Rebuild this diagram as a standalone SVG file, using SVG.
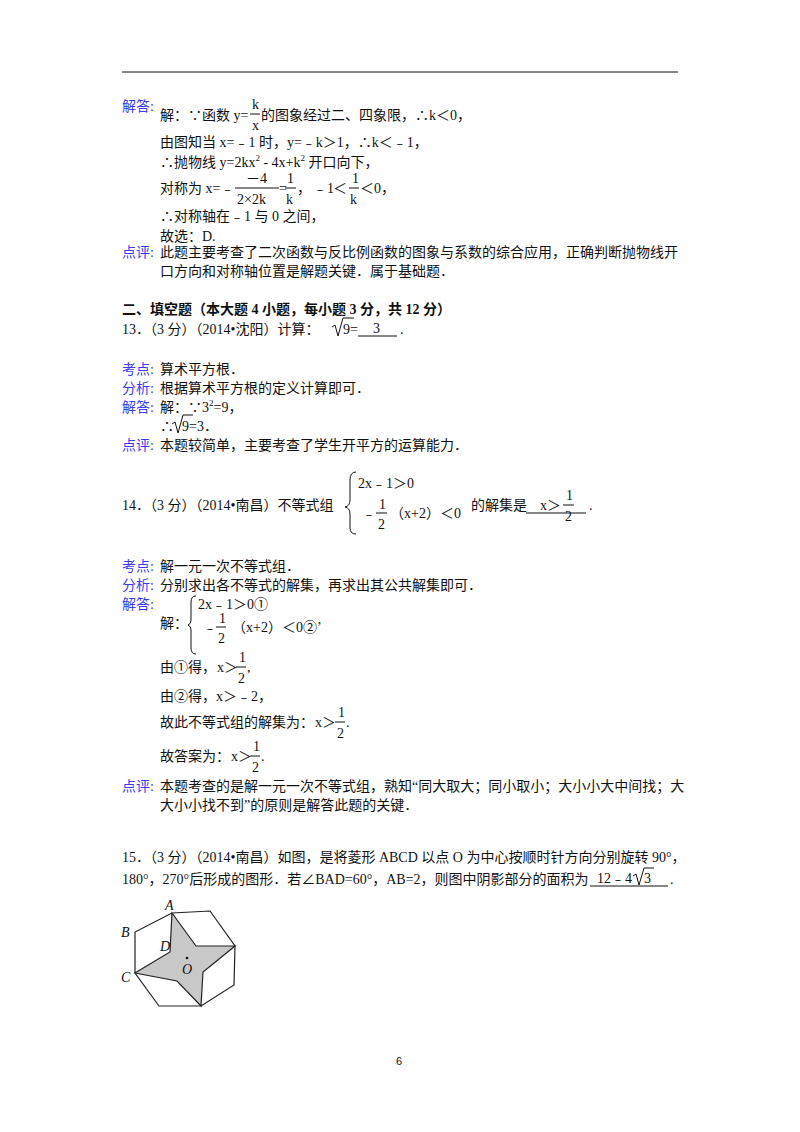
<svg xmlns="http://www.w3.org/2000/svg" width="800" height="1132" viewBox="0 0 800 1132">
<style>
text{font-family:"Liberation Serif","Noto Sans CJK SC",serif;font-size:14px;fill:#111}
.l{fill:#3a3af0}
.b{font-weight:bold}
.s{font-size:9px}
line{stroke:#111;stroke-width:1}
.fig{fill:none;stroke:#222;stroke-width:1.2}
</style>
<rect width="800" height="1132" fill="#fff"/>
<line x1="122" y1="72" x2="678" y2="72" stroke-width="1.5"/>
<g id="q12">
<text class="l" x="122" y="111">解答:</text>
<text x="160" y="120">解：∵函数 y=</text>
<text x="252" y="109">k</text><line x1="250" y1="114" x2="260" y2="114"/><text x="252" y="130">x</text>
<text x="261" y="120">的图象经过二、四象限，∴k＜0，</text>
<text x="160" y="147">由图知当 x=﹣1 时，y=﹣k＞1，∴k＜﹣1，</text>
<text x="160" y="167">∴抛物线 y=2kx<tspan class="s" dy="-6">2</tspan><tspan dy="6"> - 4x+k</tspan><tspan class="s" dy="-6">2</tspan><tspan dy="6"> 开口向下，</tspan></text>
<text x="160" y="193">对称为 x=﹣</text>
<text x="246" y="183">－4</text><line x1="235" y1="188" x2="279" y2="188"/><text x="237" y="204">2×2k</text>
<text x="279" y="193">=</text>
<text x="287" y="183">1</text><line x1="285" y1="188" x2="296" y2="188"/><text x="286" y="204">k</text>
<text x="297" y="193">，</text><text x="313" y="193">﹣1</text><text x="333" y="193">＜</text>
<text x="352" y="183">1</text><line x1="349" y1="188" x2="359" y2="188"/><text x="350" y="204">k</text>
<text x="360" y="193">＜0，</text>
<text x="160" y="221">∴对称轴在﹣1 与 0 之间，</text>
<text x="160" y="241">故选：D.</text>
<text class="l" x="122" y="257">点评:</text>
<text x="160" y="257">此题主要考查了二次函数与反比例函数的图象与系数的综合应用，正确判断抛物线开</text>
<text x="160" y="276">口方向和对称轴位置是解题关键．属于基础题．</text>
</g>
<g id="q13">
<text class="b" x="122" y="314">二、填空题（本大题 4 小题，每小题 3 分，共 12 分）</text>
<text x="122" y="334">13．（3 分）（2014•沈阳）计算：</text>
<path d="M332 327 L335 325 L338 336 L343 318 L354 318" fill="none" stroke="#111"/>
<text x="343" y="334">9=</text>
<line x1="358" y1="336" x2="397" y2="336"/>
<text x="373" y="333">3</text>
<text x="400" y="334">.</text>
<text class="l" x="122" y="374">考点:</text><text x="160" y="374">算术平方根．</text>
<text class="l" x="122" y="393">分析:</text><text x="160" y="393">根据算术平方根的定义计算即可．</text>
<text class="l" x="122" y="412">解答:</text><text x="160" y="412">解：∵3<tspan class="s" dy="-6">2</tspan><tspan dy="6">=9，</tspan></text>
<text x="160" y="431">∴</text>
<path d="M172 424 L175 422 L178 433 L183 415 L193 415" fill="none" stroke="#111"/>
<text x="182" y="431">9=3．</text>
<text class="l" x="122" y="450">点评:</text><text x="160" y="450">本题较简单，主要考查了学生开平方的运算能力．</text>
</g>
<g id="q14">
<text x="122" y="510">14．（3 分）（2014•南昌）不等式组</text>
<path d="M356 472 Q350 472 350 480 L350 500 Q350 506 345 507 Q350 508 350 514 L350 528 Q350 534 356 534" fill="none" stroke="#111"/>
<text x="358" y="488">2x﹣1＞0</text>
<text x="362" y="518">﹣</text><text x="379" y="509">1</text><line x1="376" y1="513" x2="387" y2="513"/><text x="378" y="529">2</text>
<text x="390" y="518">（x+2）＜0</text>
<text x="471" y="510">的解集是</text>
<line x1="526" y1="513" x2="586" y2="513"/>
<text x="540" y="510">x＞</text>
<text x="566" y="500">1</text><line x1="563" y1="505" x2="574" y2="505"/><text x="565" y="521">2</text>
<text x="589" y="510">.</text>
<text class="l" x="122" y="571">考点:</text><text x="160" y="571">解一元一次不等式组．</text>
<text class="l" x="122" y="590">分析:</text><text x="160" y="590">分别求出各不等式的解集，再求出其公共解集即可．</text>
<text class="l" x="122" y="609">解答:</text>
<path d="M196 596 Q191 596 191 602 L191 620 Q191 624 188 625 Q191 626 191 630 L191 648 Q191 654 196 654" fill="none" stroke="#111"/>
<text x="198" y="609">2x﹣1＞0①</text>
<text x="160" y="628">解：</text>
<text x="203" y="632">﹣</text><text x="219" y="623">1</text><line x1="216" y1="627" x2="226" y2="627"/><text x="218" y="643">2</text>
<text x="232" y="632">（x+2）＜0②’</text>
<text x="160" y="672">由①得，</text><text x="217" y="672">x＞</text>
<text x="239" y="662">1</text><line x1="236" y1="667" x2="246" y2="667"/><text x="238" y="683">2</text><text x="247" y="672">,</text>
<text x="160" y="701">由②得，x＞﹣2，</text>
<text x="160" y="727">故此不等式组的解集为：</text><text x="315" y="727">x＞</text>
<text x="338" y="717">1</text><line x1="335" y1="722" x2="345" y2="722"/><text x="337" y="738">2</text><text x="346" y="727">.</text>
<text x="160" y="761">故答案为：</text><text x="231" y="761">x＞</text>
<text x="253" y="751">1</text><line x1="250" y1="756" x2="260" y2="756"/><text x="252" y="772">2</text><text x="261" y="761">.</text>
<text class="l" x="122" y="791">点评:</text>
<text x="160" y="791">本题考查的是解一元一次不等式组，熟知“同大取大；同小取小；大小小大中间找；大</text>
<text x="160" y="810">大小小找不到”的原则是解答此题的关键．</text>
</g>
<g id="q15">
<text x="122" y="862">15．（3 分）（2014•南昌）如图，是将菱形 ABCD 以点 O 为中心按顺时针方向分别旋转 90°，</text>
<text x="122" y="884">180°，270°后形成的图形．若∠BAD=60°，AB=2，则图中阴影部分的面积为</text>
<line x1="590" y1="886" x2="668" y2="886"/>
<text x="597" y="883">12﹣4</text>
<path d="M633 876 L636 874 L639 885 L644 868 L654 868" fill="none" stroke="#111"/>
<text x="644" y="883">3</text>
<text x="670" y="884">.</text>
</g>
<g id="figure">
<polygon points="172,913 196,946 235,946 203,972 201,1006 177,981 135,973 170,952" fill="#c8c8c8" stroke="#222" stroke-width="1.2"/>
<polyline class="fig" points="172,913 210,911 235,946 234,985 201,1006 159,1006 135,973 135,932 172,913"/>
<circle cx="187" cy="958" r="1.3" fill="#111"/>
<text x="165" y="910" font-style="italic" font-size="12">A</text>
<text x="121" y="937" font-style="italic" font-size="12">B</text>
<text x="121" y="982" font-style="italic" font-size="12">C</text>
<text x="160" y="951" font-style="italic" font-size="12">D</text>
<text x="182" y="974" font-style="italic" font-size="12">O</text>
</g>
<text x="396" y="1065" style="font-family:'Liberation Sans',sans-serif;font-size:11px">6</text>
</svg>
